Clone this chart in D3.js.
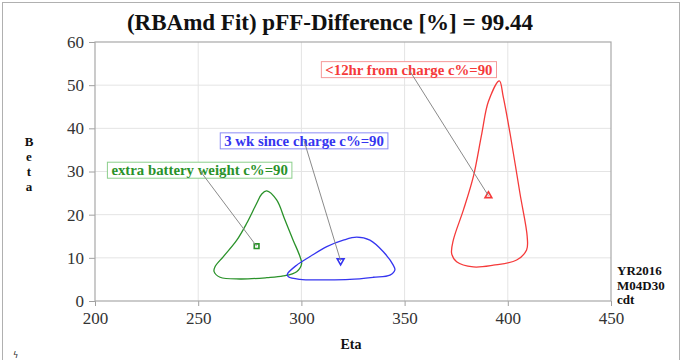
<!DOCTYPE html>
<html><head><meta charset="utf-8">
<script src="https://cdn.jsdelivr.net/npm/d3@7"></script>
<style>body{margin:0;background:#fff}svg{display:block}</style>
</head><body><svg id="c" width="683" height="360"></svg>
<script>
const titleText = "(RBAmd Fit) pFF-Difference [%] = 99.44";
const xTicks = [200, 250, 300, 350, 400, 450];
const yTicks = [0, 10, 20, 30, 40, 50, 60];
const stampLines = ["YR2016", "M04D30", "cdt"];

const seriesNames = ["extra battery weight c%=90", "3 wk since charge c%=90", "<12hr from charge c%=90"];
const seriesColors = ["#2a922a", "#3535f0", "#f53a3a"];
const boxColors = ["#8ccf8c", "#8c8cf5", "#f59a9a"];

const greenEta  = [283.2, 288.0, 292.0, 296.0, 299.3, 300.1, 297.7, 291.2, 283.2, 270.3, 260.6, 257.7, 258.1, 262.2, 268.7, 273.5, 278.3, 280.8];
const greenBeta = [25.5, 23.4, 18.8, 14.1, 10.3, 8.6, 6.8, 5.8, 5.4, 5.1, 5.5, 6.8, 7.9, 10.3, 14.1, 18.0, 22.6, 24.8];
const blueEta   = [293.2, 297.7, 304.2, 312.3, 320.3, 326.8, 333.2, 339.7, 344.5, 345.3, 342.9, 334.8, 323.5, 312.3, 299.3, 293.7];
const blueBeta  = [6.2, 8.3, 10.3, 12.6, 14.1, 14.8, 14.1, 11.4, 8.3, 7.2, 6.0, 5.5, 5.0, 4.9, 5.0, 5.6];
const redEta    = [395.9, 390.6, 387.4, 383.3, 378.5, 373.6, 372.8, 375.2, 383.3, 393.0, 404.3, 409.1, 409.4, 405.9, 401.1, 397.8];
const redBeta   = [51.0, 46.2, 38.8, 28.8, 21.1, 14.1, 11.0, 9.1, 7.9, 8.3, 9.5, 11.8, 14.9, 24.9, 38.8, 47.3];

const fitEta  = [278.3, 319.0, 390.6];
const fitBeta = [12.7, 9.3, 24.4];
const markerShapes = ["square", "triangleDown", "triangleUp"];

// label box centres (data units)
const labelEta  = [250.7, 301.3, 352.1];
const labelBeta = [30.3, 37.1, 53.6];

const svg = d3.select("#c");
const x = d3.scaleLinear().domain([200, 450]).range([95, 611]);
const y = d3.scaleLinear().domain([0, 60]).range([301, 42]);
const serif = "'Liberation Serif','Times New Roman',serif";

// outer frame
svg.append("rect").attr("x", 2.5).attr("y", 2.5).attr("width", 677).attr("height", 370)
  .attr("fill", "none").attr("stroke", "#b0b0b0");

// grid
svg.append("g").selectAll("line").data(xTicks.slice(1, -1)).join("line")
  .attr("x1", d => x(d)).attr("x2", d => x(d)).attr("y1", y(0)).attr("y2", y(60))
  .attr("stroke", "#e4e4e4");
svg.append("g").selectAll("line").data(yTicks.slice(1, -1)).join("line")
  .attr("y1", d => y(d)).attr("y2", d => y(d)).attr("x1", x(200)).attr("x2", x(450))
  .attr("stroke", "#e4e4e4");

// axes
const xa = svg.append("g").attr("transform", `translate(0,${y(0)})`)
  .call(d3.axisBottom(x).tickValues(xTicks).tickSize(5).tickPadding(6));
const ya = svg.append("g").attr("transform", `translate(${x(200)},0)`)
  .call(d3.axisLeft(y).tickValues(yTicks).tickSize(6).tickPadding(5));
[xa, ya].forEach(a => {
  a.select(".domain").remove();
  a.selectAll("line").attr("stroke", "#a0a0a0");
  a.selectAll("text").attr("font-family", serif).attr("font-size", 17).attr("fill", "#333");
});
svg.append("rect").attr("x", x(200)).attr("y", y(60)).attr("width", x(450) - x(200)).attr("height", y(0) - y(60))
  .attr("fill", "none").attr("stroke", "#a8a8a8").attr("stroke-width", 1.2);

// title
svg.append("text").attr("x", 330).attr("y", 30).attr("text-anchor", "middle")
  .attr("font-family", serif).attr("font-weight", "bold").attr("font-size", 23).attr("fill", "#111")
  .text(titleText);

// axis labels
svg.append("text").attr("x", 351).attr("y", 349).attr("text-anchor", "middle")
  .attr("font-family", serif).attr("font-weight", "bold").attr("font-size", 14).attr("fill", "#111").text("Eta");
"Beta".split("").forEach((ch, i) => svg.append("text").attr("x", 29).attr("y", 146 + i * 15)
  .attr("font-family", serif).attr("font-weight", "bold").attr("font-size", 13)
  .attr("fill", "#111").attr("text-anchor", "middle").text(ch));

// stamp
stampLines.forEach((s, i) => svg.append("text").attr("x", 617).attr("y", 275 + i * 14.5)
  .attr("font-family", serif).attr("font-weight", "bold").attr("font-size", 13).attr("fill", "#111").text(s));

// tiny glyph
svg.append("text").attr("x", 13).attr("y", 358).attr("font-size", 8).attr("font-family", "DejaVu Sans").attr("fill", "#222").text("ϟ");

// contours
const line = d3.line().x(d => x(d[0])).y(d => y(d[1])).curve(d3.curveCatmullRomClosed.alpha(0.5));
const contours = [d3.zip(greenEta, greenBeta), d3.zip(blueEta, blueBeta), d3.zip(redEta, redBeta)];
contours.forEach((pts, i) => {
  svg.append("path").attr("d", line(pts)).attr("fill", "none")
    .attr("stroke", seriesColors[i]).attr("stroke-width", 1.3);
});

// markers
const sym = {square: d3.symbolSquare, triangleDown: d3.symbolTriangle, triangleUp: d3.symbolTriangle};
fitEta.forEach((e, i) => {
  const shape = markerShapes[i];
  const rot = shape === "triangleDown" ? 180 : 0;
  svg.append("path").attr("d", d3.symbol().type(sym[shape]).size(shape === "square" ? 22 : 20)())
    .attr("transform", `translate(${x(e)},${y(fitBeta[i])}) rotate(${rot})`)
    .attr("fill", shape === "square" ? "none" : "#fff").attr("stroke", seriesColors[i]).attr("stroke-width", 1.6);
});

// labels
seriesNames.forEach((name, i) => {
  const cx = x(labelEta[i]), cy = y(labelBeta[i]);
  const g = svg.append("g");
  const t = g.append("text").attr("x", cx).attr("y", cy + 5).attr("text-anchor", "middle")
    .attr("font-family", serif).attr("font-weight", "bold").attr("font-size", 14.8)
    .attr("fill", seriesColors[i]).text(name);
  const bb = t.node().getBBox();
  g.insert("rect", "text").attr("x", bb.x - 4).attr("y", cy - 8).attr("width", bb.width + 8).attr("height", 16)
    .attr("fill", "#fff").attr("stroke", boxColors[i]).attr("stroke-width", 1);
  svg.append("line").attr("x1", cx).attr("y1", cy).attr("x2", x(fitEta[i])).attr("y2", y(fitBeta[i]))
    .attr("stroke", "#8a8a8a").attr("stroke-width", 1);
});
</script></body></html>
